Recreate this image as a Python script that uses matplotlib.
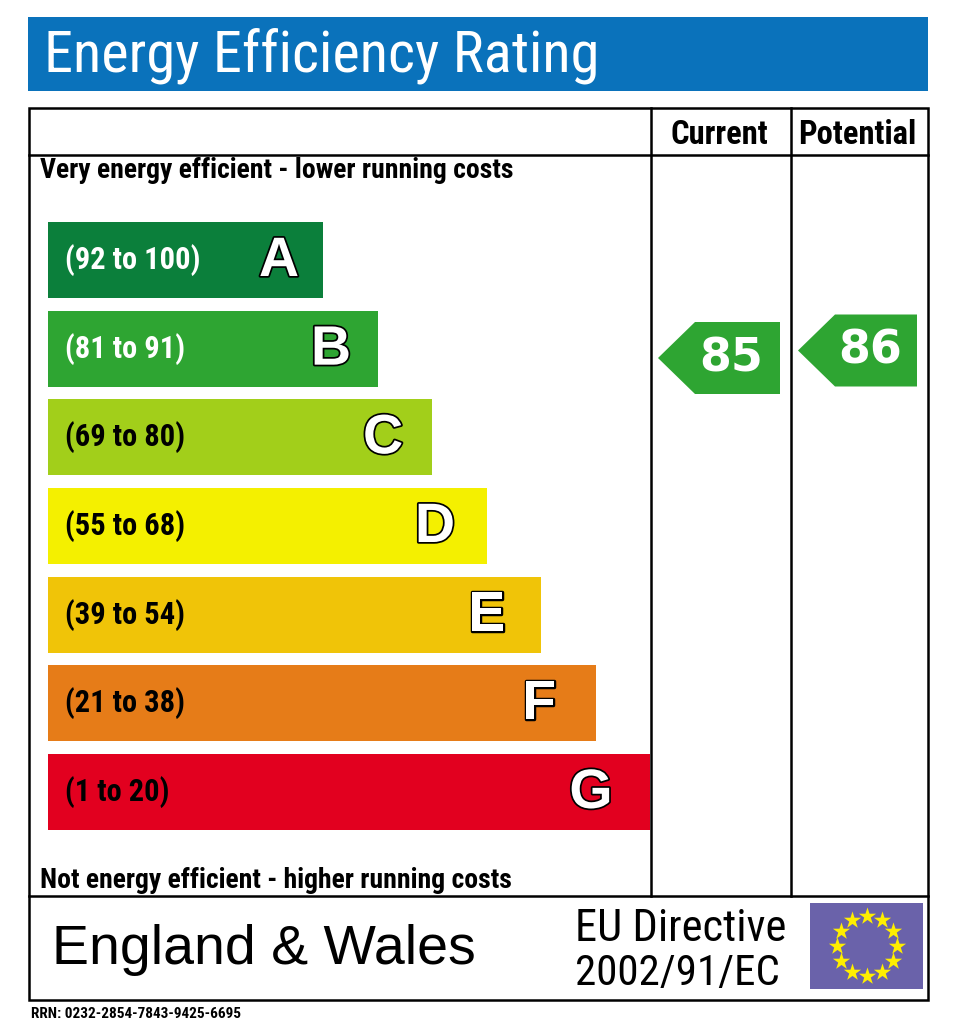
import matplotlib
matplotlib.use("Agg")
import matplotlib.pyplot as plt
from matplotlib.patches import Rectangle, Polygon
import matplotlib.patheffects as pe
import numpy as np

# -------------------------------------------------------
# DATA
# -------------------------------------------------------
bands = ["A", "B", "C", "D", "E", "F", "G"]
band_ranges = ["(92 to 100)", "(81 to 91)", "(69 to 80)", "(55 to 68)",
               "(39 to 54)", "(21 to 38)", "(1 to 20)"]
band_colors = ["#0b7f3b", "#2ea532", "#a2cf1a", "#f4f000",
               "#f0c408", "#e67c18", "#e2001f"]
range_text_colors = ["white", "white", "black", "black", "black", "black", "black"]

columns = ["Current", "Potential"]
ratings = [85, 86]
rating_color = "#2ea532"

title = "Energy Efficiency Rating"
top_note = "Very energy efficient - lower running costs"
bottom_note = "Not energy efficient - higher running costs"
region = "England & Wales"
directive = ["EU Directive", "2002/91/EC"]
rrn = "RRN: 0232-2854-7843-9425-6695"

# -------------------------------------------------------
# FONTS
# -------------------------------------------------------
narrow = ["Roboto Condensed", "Liberation Sans"]
arial = ["Liberation Sans", "DejaVu Sans"]

# -------------------------------------------------------
# FIGURE (pixel coordinates)
# -------------------------------------------------------
W, H = 968, 1024
fig = plt.figure(figsize=(W / 100, H / 100), dpi=100)
ax = fig.add_axes([0, 0, 1, 1])
ax.set_xlim(0, W)
ax.set_ylim(H, 0)
ax.axis("off")

# title bar
ax.add_patch(Rectangle((28, 17), 900, 74, color="#0a72bb", lw=0))
ax.text(44, 56, title, color="white", fontsize=42, family=narrow,
        va="center", ha="left")

# outer frame and grid lines
lw = 1.8
ax.add_patch(Rectangle((29, 108), 899, 892, fill=False, ec="black", lw=lw))
ax.plot([29, 928], [155, 155], color="black", lw=lw)
ax.plot([29, 928], [896, 896], color="black", lw=lw)
col_edges = [651, 791, 928]
for x in col_edges[:2]:
    ax.plot([x, x], [108, 896], color="black", lw=lw)

# column headers
for i, name in enumerate(columns):
    ax.text((col_edges[i] + col_edges[i + 1]) / 2 - 2, 135, name, fontsize=23.5,
            fontweight="bold", family=narrow, ha="center", va="center")

ax.text(40, 171, top_note, fontsize=20, fontweight="bold", family=narrow,
        ha="left", va="center")
ax.text(40, 880, bottom_note, fontsize=20, fontweight="bold", family=narrow,
        ha="left", va="center")

# rating bands
bar_left, bar_top, bar_h = 48, 222, 76
step = (754 - 222) / 6
for i, band in enumerate(bands):
    y0 = bar_top + i * step
    right = 323 + i * (650 - 323) / 6
    ax.add_patch(Rectangle((bar_left, y0), right - bar_left, bar_h,
                           color=band_colors[i], lw=0))
    ax.text(65, y0 + bar_h / 2, band_ranges[i], color=range_text_colors[i],
            fontsize=22, fontweight="bold", family=narrow, ha="left", va="center")
    ax.text(right - 44 - 2.5 * i, y0 + bar_h / 2 + 2, band, color="white",
            fontsize=40, fontweight="bold", family=arial, ha="center", va="center",
            path_effects=[pe.withStroke(linewidth=2.5, foreground="black")])


# arrow vertical position from the rating value
def rating_y(v):
    return 358 - (v - 85) * 7.5


for i, v in enumerate(ratings):
    yc = rating_y(v)
    tip = col_edges[i] + 7
    body = tip + 37
    right = col_edges[i + 1] - 11
    half = 36
    ax.add_patch(Polygon([(tip, yc), (body, yc - half), (right, yc - half),
                          (right, yc + half), (body, yc + half)],
                         closed=True, color=rating_color, lw=0))
    ax.text((body + right) / 2 - 6, yc + 1, str(v), color="white", fontsize=33,
            fontweight="bold", family="DejaVu Sans", ha="center", va="center")

# footer
ax.text(52, 950, region, fontsize=40, family=arial, ha="left", va="center")
ax.text(575, 929, directive[0], fontsize=32, family=narrow, ha="left", va="center")
ax.text(575, 974, directive[1], fontsize=31, family=narrow, ha="left", va="center")

# EU flag
ax.add_patch(Rectangle((810, 903), 113, 86, color="#6a62aa", lw=0))
ang = np.linspace(0, 2 * np.pi, 12, endpoint=False)
ax.scatter(867 + 30 * np.cos(ang), 946 + 30 * np.sin(ang), marker="*",
           s=170, color="#ffee00", lw=0, zorder=3)

ax.text(31, 1014, rrn, fontsize=11, fontweight="bold", family=narrow,
        ha="left", va="center")

fig.savefig("out.png", dpi=100, facecolor="white")
